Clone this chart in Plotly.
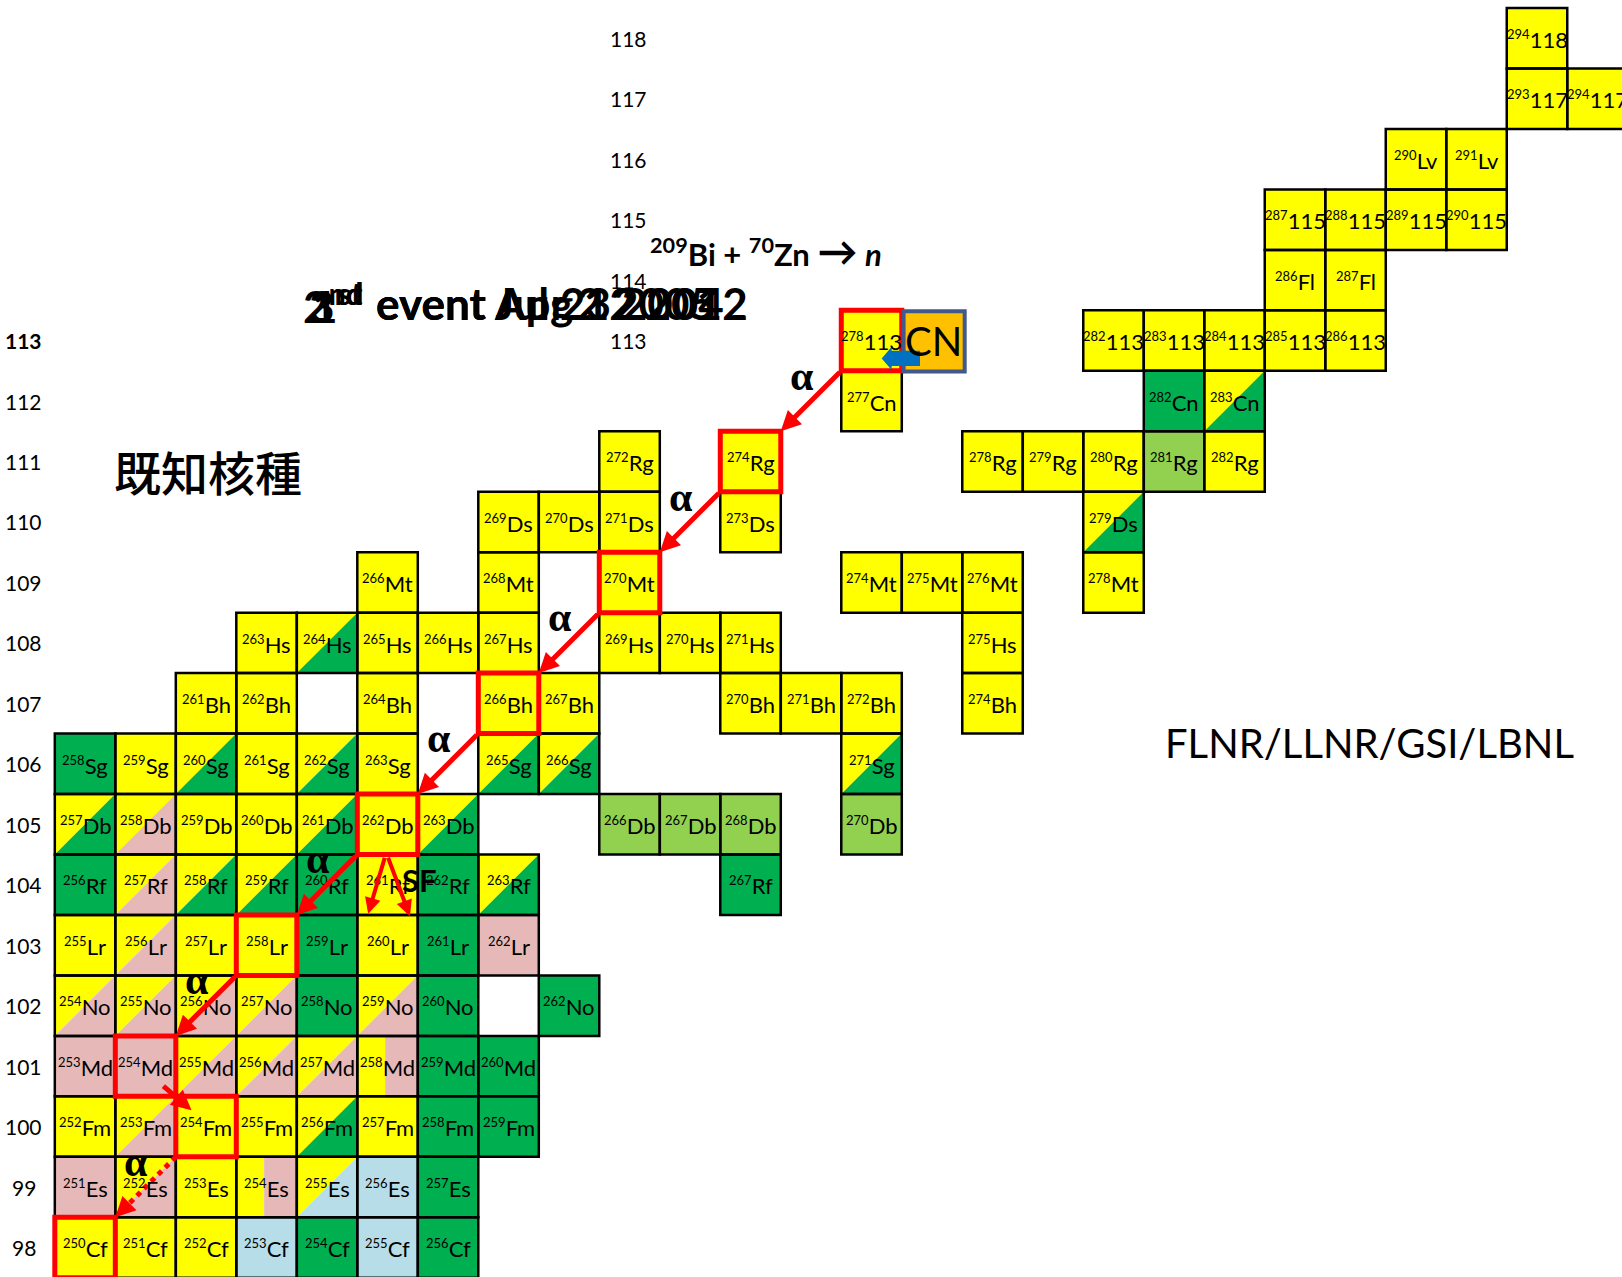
import plotly.graph_objects as go

# ---- colours for half-life / decay-mode classes ----
YELLOW = "#FFFF00"
GREEN = "#00B050"
LIGHT_GREEN = "#92D050"
PINK = "#E6B9B8"
LIGHT_BLUE = "#B7DEE8"
SOLID = {"Y": YELLOW, "G": GREEN, "L": LIGHT_GREEN, "P": PINK, "B": LIGHT_BLUE}
SECOND = {"YG": GREEN, "YP": PINK, "YB": LIGHT_BLUE}

# ---- known nuclides, one list pair per element row ----
# status: Y/G/L/P/B solid, YG/YP/YB diagonal split, Y|P vertical split
cf_mass = [250, 251, 252, 253, 254, 255, 256]
cf_kind = ["Y", "Y", "Y", "B", "G", "B", "G"]
es_mass = [251, 252, 253, 254, 255, 256, 257]
es_kind = ["P", "YP", "Y", "Y|P", "YB", "B", "G"]
fm_mass = [252, 253, 254, 255, 256, 257, 258, 259]
fm_kind = ["Y", "YP", "Y", "Y", "YG", "Y", "G", "G"]
md_mass = [253, 254, 255, 256, 257, 258, 259, 260]
md_kind = ["P", "P", "YP", "YP", "YP", "Y|P", "G", "G"]
no_mass = [254, 255, 256, 257, 258, 259, 260, 262]
no_kind = ["YP", "YP", "YP", "YP", "G", "YP", "G", "G"]
lr_mass = [255, 256, 257, 258, 259, 260, 261, 262]
lr_kind = ["Y", "YP", "Y", "Y", "G", "Y", "G", "P"]
rf_mass = [256, 257, 258, 259, 260, 261, 262, 263, 267]
rf_kind = ["G", "YP", "YG", "YG", "G", "Y", "G", "YG", "G"]
db_mass = [257, 258, 259, 260, 261, 262, 263, 266, 267, 268, 270]
db_kind = ["YG", "YP", "Y", "Y", "YG", "Y", "YG", "L", "L", "L", "L"]
sg_mass = [258, 259, 260, 261, 262, 263, 265, 266, 271]
sg_kind = ["G", "Y", "YG", "Y", "YG", "Y", "YG", "YG", "YG"]
bh_mass = [261, 262, 264, 266, 267, 270, 271, 272, 274]
hs_mass = [263, 264, 265, 266, 267, 269, 270, 271, 275]
hs_kind = ["Y", "YG", "Y", "Y", "Y", "Y", "Y", "Y", "Y"]
mt_mass = [266, 268, 270, 274, 275, 276, 278]
ds_mass = [269, 270, 271, 273, 279]
ds_kind = ["Y", "Y", "Y", "Y", "YG"]
rg_mass = [272, 274, 278, 279, 280, 281, 282]
rg_kind = ["Y", "Y", "Y", "Y", "Y", "L", "Y"]
cn_mass = [277, 282, 283]
cn_kind = ["Y", "G", "YG"]
e113_mass = [278, 282, 283, 284, 285, 286]
fl_mass = [286, 287]
e115_mass = [287, 288, 289, 290]
lv_mass = [290, 291]
e117_mass = [293, 294]
e118_mass = [294]


def all_yellow(masses):
    return ["Y"] * len(masses)


ROWS = [
    (98, "Cf", cf_mass, cf_kind),
    (99, "Es", es_mass, es_kind),
    (100, "Fm", fm_mass, fm_kind),
    (101, "Md", md_mass, md_kind),
    (102, "No", no_mass, no_kind),
    (103, "Lr", lr_mass, lr_kind),
    (104, "Rf", rf_mass, rf_kind),
    (105, "Db", db_mass, db_kind),
    (106, "Sg", sg_mass, sg_kind),
    (107, "Bh", bh_mass, all_yellow(bh_mass)),
    (108, "Hs", hs_mass, hs_kind),
    (109, "Mt", mt_mass, all_yellow(mt_mass)),
    (110, "Ds", ds_mass, ds_kind),
    (111, "Rg", rg_mass, rg_kind),
    (112, "Cn", cn_mass, cn_kind),
    (113, "113", e113_mass, all_yellow(e113_mass)),
    (114, "Fl", fl_mass, all_yellow(fl_mass)),
    (115, "115", e115_mass, all_yellow(e115_mass)),
    (116, "Lv", lv_mass, all_yellow(lv_mass)),
    (117, "117", e117_mass, all_yellow(e117_mass)),
    (118, "118", e118_mass, all_yellow(e118_mass)),
]

# proton-number labels: left column and the upper column
left_z_labels = list(range(98, 114))
upper_z_labels = list(range(113, 119))

# 113 decay chain (Z, A) and the decay mode leading to the next member
chain_z = [113, 111, 109, 107, 105, 103, 101, 100, 98]
chain_a = [278, 274, 270, 266, 262, 258, 254, 254, 250]
chain_mode = ["α", "α", "α", "α", "α", "α", "EC", "α-dot"]
# spontaneous fission branch of 262Db
sf_parent = (105, 262)

# observed events, written on top of each other
event_ordinals = ["1<sup>st</sup>", "2<sup>nd</sup>", "3<sup>rd</sup>"]
event_dates = ["event Jul 23 2004", "event Apr 2 2005", "event Aug 12 2012"]

FONT = "Lato, 'Noto Sans', sans-serif"

shapes = []
annotations = []


def n_of(z, a):
    return a - z


def nuclide_label(a, sym):
    return f"<sup><span style='font-size:13px'>{a}</span></sup>{sym}"


# ---- cell fills ----
for z, sym, masses, kinds in ROWS:
    for a, k in zip(masses, kinds):
        n = n_of(z, a)
        x0, x1, y0, y1 = n - 0.5, n + 0.5, z - 0.5, z + 0.5
        if k in SOLID:
            shapes.append(dict(type="rect", x0=x0, x1=x1, y0=y0, y1=y1,
                               fillcolor=SOLID[k], line_width=0))
        elif k in SECOND:
            shapes.append(dict(type="path",
                               path=f"M {x0},{y1} L {x1},{y1} L {x0},{y0} Z",
                               fillcolor=YELLOW, line_width=0))
            shapes.append(dict(type="path",
                               path=f"M {x1},{y1} L {x1},{y0} L {x0},{y0} Z",
                               fillcolor=SECOND[k], line_width=0))
        elif k == "Y|P":
            xm = x0 + 0.46
            shapes.append(dict(type="rect", x0=x0, x1=xm, y0=y0, y1=y1,
                               fillcolor=YELLOW, line_width=0))
            shapes.append(dict(type="rect", x0=xm, x1=x1, y0=y0, y1=y1,
                               fillcolor=PINK, line_width=0))
        annotations.append(dict(
            x=n, y=z - 0.02, xref="x", yref="y", showarrow=False,
            text=nuclide_label(a, sym),
            font=dict(family=FONT, size=22, color="black"),
            xanchor="center", yanchor="middle"))

# ---- cell borders ----
for z, sym, masses, kinds in ROWS:
    for a in masses:
        n = n_of(z, a)
        shapes.append(dict(type="rect", x0=n - 0.5, x1=n + 0.5, y0=z - 0.5, y1=z + 0.5,
                           fillcolor="rgba(0,0,0,0)", line=dict(color="black", width=2.5)))

# ---- red boxes on the decay chain ----
for z, a in zip(chain_z, chain_a):
    n = n_of(z, a)
    shapes.append(dict(type="rect", x0=n - 0.5, x1=n + 0.5, y0=z - 0.5, y1=z + 0.5,
                       fillcolor="rgba(0,0,0,0)", line=dict(color="#FF0000", width=5)))

# ---- compound-nucleus box and blue pointer ----
cz, ca = chain_z[0], chain_a[0]
cn = n_of(cz, ca)
shapes.append(dict(type="rect", x0=cn + 0.53, x1=cn + 1.54, y0=cz - 0.51, y1=cz + 0.484,
                   fillcolor="#FFC000", line=dict(color="#41598B", width=4)))
annotations.append(dict(x=cn + 1.03, y=cz, xref="x", yref="y", showarrow=False,
                        text="CN", font=dict(family=FONT, size=40, color="black"),
                        xanchor="center", yanchor="middle"))
bx, by = cn, cz
blue_path = (f"M {bx + 0.168},{by - 0.297} L {bx + 0.333},{by - 0.101} "
             f"L {bx + 0.333},{by - 0.167} L {bx + 0.801},{by - 0.167} "
             f"L {bx + 0.801},{by - 0.420} L {bx + 0.333},{by - 0.420} "
             f"L {bx + 0.333},{by - 0.487} Z")
shapes.append(dict(type="path", path=blue_path, fillcolor="#0070C0", line_width=0))

# ---- decay arrows ----
ARROW = dict(xref="x", yref="y", axref="x", ayref="y", text="", showarrow=True,
             arrowhead=2, arrowsize=0.8, arrowwidth=5, arrowcolor="#FF0000",
             standoff=0, startstandoff=0)
alpha_labels = []
for i, mode in enumerate(chain_mode):
    pz, pa = chain_z[i], chain_a[i]
    dz, da = chain_z[i + 1], chain_a[i + 1]
    pn, dn = n_of(pz, pa), n_of(dz, da)
    if mode == "EC":
        sx, sy = pn + 0.27, pz - 0.31
        ex, ey = pn + 0.76, pz - 0.73
        annotations.append(dict(ARROW, x=ex, y=ey, ax=sx, ay=sy))
        continue
    sx, sy = pn - 0.5, pz - 0.5
    ex, ey = dn + 0.5, dz + 0.5
    if mode == "α-dot":
        shapes.append(dict(type="line", x0=sx, y0=sy, x1=ex + 0.2, y1=ey + 0.2,
                           line=dict(color="#FF0000", width=5, dash="dot")))
        annotations.append(dict(ARROW, x=ex, y=ey, ax=ex + 0.24, ay=ey + 0.24))
    else:
        annotations.append(dict(ARROW, x=ex, y=ey, ax=sx, ay=sy))
    alpha_labels.append(((sx + ex) / 2 - 0.15, (sy + ey) / 2 + 0.42))

# spontaneous fission: two fragments out of 262Db
fz, fa = sf_parent
fn = n_of(fz, fa)
annotations.append(dict(ARROW, x=fn - 0.32, y=fz - 1.48, ax=fn - 0.04, ay=fz - 0.53, arrowwidth=4))
annotations.append(dict(ARROW, x=fn + 0.37, y=fz - 1.52, ax=fn + 0.0, ay=fz - 0.53, arrowwidth=4))

for ax_, ay_ in alpha_labels:
    annotations.append(dict(x=ax_, y=ay_, xref="x", yref="y", showarrow=False,
                            text="<b>α</b>",
                            font=dict(family="'Liberation Serif', serif", size=42, color="black"),
                            xanchor="center", yanchor="middle"))
annotations.append(dict(x=fn + 0.52, y=fz - 0.92, xref="x", yref="y", showarrow=False,
                        text="<b>SF</b>", font=dict(family=FONT, size=31, color="black"),
                        xanchor="center", yanchor="middle"))

# ---- proton-number labels ----
for z in left_z_labels:
    txt = f"<b>{z}</b>" if z == 113 else str(z)
    annotations.append(dict(x=150.99, y=z, xref="x", yref="y", showarrow=False, text=txt,
                            font=dict(family=FONT, size=21, color="black"),
                            xanchor="center", yanchor="middle"))
for z in upper_z_labels:
    annotations.append(dict(x=160.99, y=z, xref="x", yref="y", showarrow=False, text=str(z),
                            font=dict(family=FONT, size=21, color="black"),
                            xanchor="center", yanchor="middle"))

# ---- free text ----
EVENT_X, EVENT_Y = 156.78, 113.62
for ordinal, date in zip(event_ordinals, event_dates):
    annotations.append(dict(x=EVENT_X - 0.16, y=EVENT_Y, xref="x", yref="y", showarrow=False,
                            text=f"<b>{ordinal}</b>",
                            font=dict(family=FONT, size=44, color="black"),
                            xanchor="right", yanchor="middle"))
    annotations.append(dict(x=EVENT_X, y=EVENT_Y, xref="x", yref="y", showarrow=False,
                            text=f"<b>{date}</b>",
                            font=dict(family=FONT, size=44, color="black"),
                            xanchor="left", yanchor="middle"))
annotations.append(dict(x=161.30, y=114.475, xref="x", yref="y", showarrow=False,
                        text=("<b><sup>209</sup>Bi + <sup>70</sup>Zn "
                              "<span style='font-size:40px'>→</span> <i>n</i></b>"),
                        font=dict(family=FONT, size=31, color="black"),
                        xanchor="left", yanchor="middle"))
annotations.append(dict(x=154.03, y=110.85, xref="x", yref="y", showarrow=False,
                        text="既知核種",
                        font=dict(family="'Noto Sans CJK JP', sans-serif", size=47,
                                  color="black", weight=500),
                        xanchor="center", yanchor="middle"))
annotations.append(dict(x=173.23, y=106.35, xref="x", yref="y", showarrow=False,
                        text="FLNR/LLNR/GSI/LBNL",
                        font=dict(family=FONT, size=40, color="black"),
                        xanchor="center", yanchor="middle"))

fig = go.Figure()
fig.update_layout(
    width=1622, height=1277,
    margin=dict(l=0, r=0, t=0, b=0),
    paper_bgcolor="white", plot_bgcolor="white",
    xaxis=dict(range=[150.594, 177.405], visible=False, fixedrange=True),
    yaxis=dict(range=[97.512, 118.633], visible=False, fixedrange=True),
    shapes=shapes,
    annotations=annotations,
    showlegend=False,
)
fig.write_html("out.html")
